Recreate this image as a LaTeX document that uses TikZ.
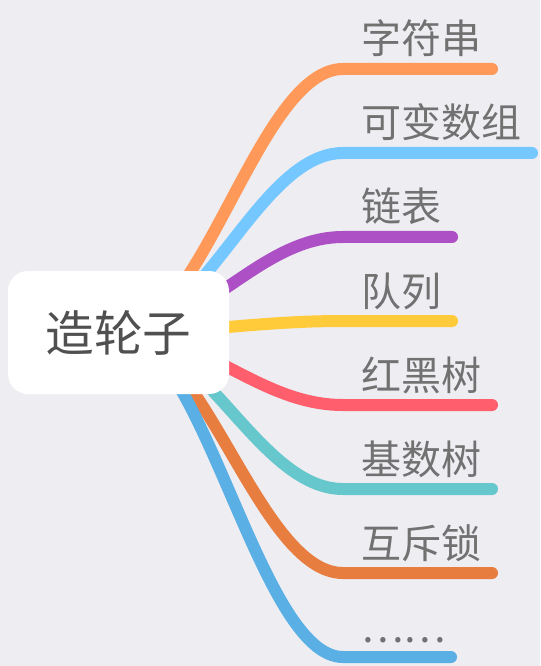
\documentclass[tikz,border=0pt]{standalone}
\usepackage{fontspec}
\setmainfont{Noto Sans CJK SC}
\usepackage{tikz}
\usetikzlibrary{backgrounds}
\usepackage{xcolor}
\definecolor{BgGray}{HTML}{EEEDF2}
\definecolor{RootText}{HTML}{505050}
\definecolor{LeafText}{HTML}{717171}
\definecolor{BranchOrange}{HTML}{FF9959}
\definecolor{BranchSky}{HTML}{75C8FF}
\definecolor{BranchPurple}{HTML}{AD4FC5}
\definecolor{BranchYellow}{HTML}{FFCB3B}
\definecolor{BranchRed}{HTML}{FF5E6C}
\definecolor{BranchTeal}{HTML}{66C8CC}
\definecolor{BranchRust}{HTML}{E87D40}
\definecolor{BranchBlue}{HTML}{5AAFE5}
\tikzset{
  rootbox/.style={fill=white, rounded corners=15pt, minimum width=165.75pt, minimum height=92.25pt, inner sep=0pt, text=RootText, font=\fontsize{36.5}{40}\selectfont},
  leaf/.style={anchor=base west, inner sep=0pt, text=LeafText, font=\fontsize{30}{32}\selectfont},
  branch/.style={line width=9pt, line cap=round},
}

\begin{document}
\begin{tikzpicture}[x=0.75pt, y=-0.75pt]
				\useasboundingbox (0,0) rectangle (540,666);
				% 中心主题
				\node[rootbox] (root) at (118.5,332.5) {造轮子};
				% 分支标签
				\node[leaf] (zifu) at (361,54) {字符串};
				\node[leaf] (shuzu) at (361,138) {可变数组};
				\node[leaf] (lianbiao) at (361,222) {链表};
				\node[leaf] (duilie) at (361,306) {队列};
				\node[leaf] (hongheishu) at (361,390) {红黑树};
				\node[leaf] (jishushu) at (361,474) {基数树};
				\node[leaf] (suo) at (361,558) {互斥锁};
				\node[leaf] (gengduo) at (361,642) {……};
				% 下划线端点
				\coordinate (zifu-a) at (343,69);    \coordinate (zifu-b) at (492,69);
				\coordinate (shuzu-a) at (343,153);  \coordinate (shuzu-b) at (532,153);
				\coordinate (lianbiao-a) at (343,237); \coordinate (lianbiao-b) at (452,237);
				\coordinate (duilie-a) at (343,321); \coordinate (duilie-b) at (452,321);
				\coordinate (hongheishu-a) at (343,405); \coordinate (hongheishu-b) at (492,405);
				\coordinate (jishushu-a) at (343,489); \coordinate (jishushu-b) at (492,489);
				\coordinate (suo-a) at (343,573);    \coordinate (suo-b) at (492,573);
				\coordinate (gengduo-a) at (343,657); \coordinate (gengduo-b) at (451,657);
				% 连线画在底层
				\begin{scope}[on background layer]
					\fill[BgGray] (0,0) rectangle (540,666);
					\draw[branch, BranchOrange] (root.center) .. controls +(84,0) and +(-84,0) .. (zifu-a) -- (zifu-b);
					\draw[branch, BranchSky] (root.center) .. controls +(84,0) and +(-84,0) .. (shuzu-a) -- (shuzu-b);
					\draw[branch, BranchPurple] (root.center) .. controls +(84,0) and +(-84,0) .. (lianbiao-a) -- (lianbiao-b);
					\draw[branch, BranchYellow] (root.center) .. controls +(84,0) and +(-84,0) .. (duilie-a) -- (duilie-b);
					\draw[branch, BranchRed] (root.center) .. controls +(84,0) and +(-84,0) .. (hongheishu-a) -- (hongheishu-b);
					\draw[branch, BranchTeal] (root.center) .. controls +(84,0) and +(-84,0) .. (jishushu-a) -- (jishushu-b);
					\draw[branch, BranchRust] (root.center) .. controls +(84,0) and +(-84,0) .. (suo-a) -- (suo-b);
					\draw[branch, BranchBlue] (root.center) .. controls +(84,0) and +(-84,0) .. (gengduo-a) -- (gengduo-b);
				\end{scope}
			\end{tikzpicture}
\end{document}
